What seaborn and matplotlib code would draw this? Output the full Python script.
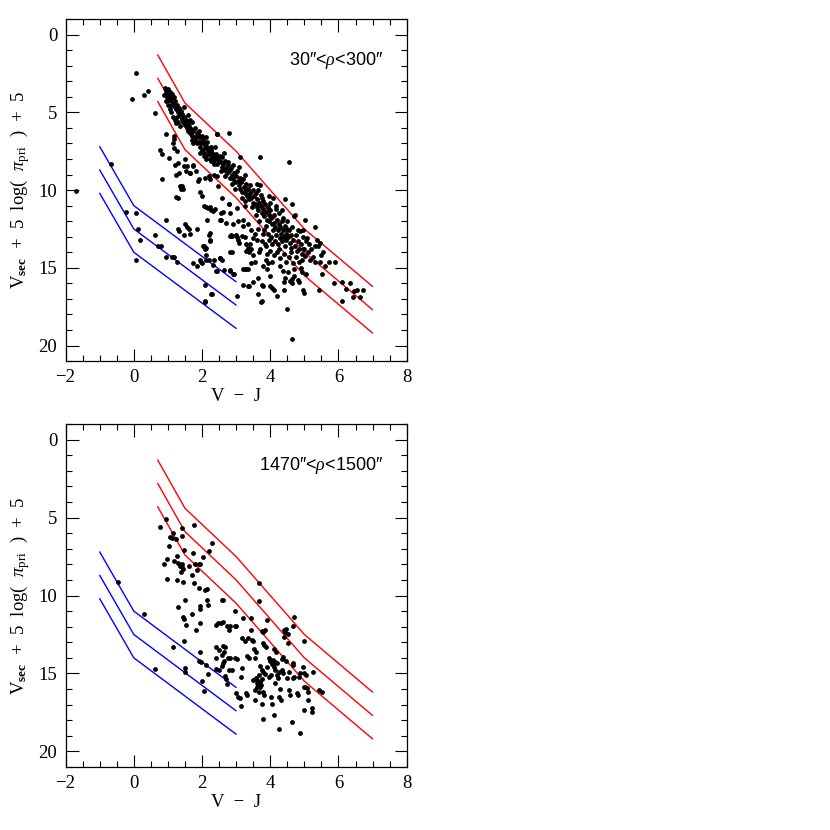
import numpy as np
import pandas as pd
import matplotlib
matplotlib.use('Agg')
import matplotlib.pyplot as plt
import seaborn as sns
from matplotlib.ticker import MultipleLocator

# envelope lines (V-J nodes, magnitudes)
red_vj = [0.7, 1.5, 3.0, 5.0, 7.0]
red_upper = [1.3, 4.4, 7.5, 12.5, 16.2]
red_mid = [2.8, 5.9, 9.0, 14.0, 17.7]
red_lower = [4.3, 7.4, 10.5, 15.5, 19.2]

blue_vj = [-1.0, 0.0, 3.0]
blue_upper = [7.2, 11.0, 15.9]
blue_mid = [8.7, 12.5, 17.4]
blue_lower = [10.2, 14.0, 18.9]

panel_labels = ["30\u2033<$\\rho$<300\u2033", "1470\u2033<$\\rho$<1500\u2033"]

# 30" < rho < 300" sample (V-J, Vsec + 5 log(pi) + 5)
top_pts = [
    (0.92,3.45),(0.95,3.6),(0.98,3.8),(1.0,3.5),(1.02,4.0),(1.05,3.7),(1.07,4.2),(1.1,3.9),
    (1.12,4.1),(1.15,4.4),(1.18,4.0),(1.2,4.6),(1.22,4.3),(1.25,4.8),(1.28,4.5),(1.3,5.0),
    (1.32,4.7),(1.35,5.2),(1.38,4.9),(1.4,5.4),(1.42,5.1),(1.45,5.6),(1.48,5.3),(1.5,5.8),
    (1.52,5.5),(1.55,6.0),(1.58,5.7),(1.6,6.2),(0.88,3.9),(0.95,4.3),(1.0,4.5),(1.05,4.8),
    (1.1,5.0),(1.15,5.3),(1.2,5.5),(1.25,5.7),(1.3,5.6),(1.35,5.9),(1.12,3.8),(1.17,4.6),
    (1.27,5.3),(1.02,4.2),(0.97,4.0),(1.08,4.5),(1.46,4.67),(1.6,5.2),(1.65,5.5),
    (1.62,5.9),(1.65,6.3),(1.68,6.1),(1.7,5.6),(1.72,6.5),(1.75,6.2),(1.78,6.8),(1.8,6.0),
    (1.82,6.6),(1.85,7.0),(1.88,6.4),(1.9,6.9),(1.93,7.2),(1.95,6.6),(1.98,7.0),(2.0,7.4),
    (2.02,6.8),(2.05,7.6),(2.08,7.1),(2.1,7.3),(2.13,7.8),(2.15,6.9),(2.18,7.5),(2.2,7.7),
    (2.22,8.0),(2.25,7.4),(2.28,7.9),(2.3,7.6),(2.32,8.1),(2.35,7.8),(2.38,7.2),(2.4,8.0),
    (2.42,7.7),(2.45,8.3),(2.48,7.9),(2.5,8.1),(1.75,7.0),(1.85,6.3),(1.95,7.6),(2.05,7.0),
    (2.15,7.2),(2.25,8.1),(2.35,8.3),(2.44,6.4),(2.12,6.6),(1.92,6.2),(2.27,7.2),(2.0,6.5),
    (1.7,6.8),
    (2.52,7.8),(2.55,8.2),(2.58,8.5),(2.6,7.9),(2.62,8.3),(2.65,8.7),(2.68,8.1),(2.7,8.6),
    (2.72,8.9),(2.75,8.4),(2.78,6.3),(2.8,8.8),(2.82,9.2),(2.85,8.6),(2.88,9.0),(2.9,8.4),
    (2.92,9.3),(2.95,8.9),(2.98,9.5),(3.0,9.1),(3.02,8.8),(3.05,9.4),(3.08,9.7),(3.1,9.2),
    (3.12,9.9),(3.15,9.5),(3.18,10.1),(3.2,9.3),(3.22,9.8),(3.25,10.2),(3.28,9.6),(3.3,10.0),
    (3.32,10.4),(3.35,9.9),(3.38,10.6),(3.4,10.2),(3.42,9.7),(3.45,10.5),(3.48,10.0),(3.5,10.8),
    (2.57,8.8),(2.67,9.1),(2.77,8.2),(2.87,9.6),(2.97,9.9),(3.07,8.5),(3.17,10.5),(3.27,10.7),
    (3.37,10.3),(3.47,11.1),(3.25,9.0),(3.1,7.9),(2.63,7.6),
    (3.52,10.4),(3.55,10.9),(3.57,10.2),(3.6,11.1),(3.62,10.6),(3.65,11.3),(3.67,10.8),(3.7,9.7),
    (3.72,11.0),(3.75,11.5),(3.77,10.5),(3.8,11.2),(3.82,11.7),(3.85,10.9),(3.87,11.4),(3.9,11.9),
    (3.92,11.1),(3.95,11.6),(3.97,12.0),(4.0,11.3),(4.02,11.8),(4.05,12.2),(4.07,10.5),(4.1,11.6),
    (4.12,12.1),(4.15,12.4),(4.17,11.2),(4.2,11.9),(4.22,12.6),(4.25,12.2),(4.27,11.5),(4.3,12.4),
    (4.32,12.8),(4.35,12.0),(4.37,12.6),(4.4,13.0),(4.42,12.3),(4.45,12.8),(4.47,13.2),(4.5,12.5),
    (3.58,11.6),(3.68,12.0),(3.78,10.7),(3.88,12.3),(3.98,10.8),(4.08,12.6),(4.18,12.9),(4.28,13.1),
    (4.38,11.8),(4.48,12.0),(3.63,10.0),(3.73,10.3),(3.83,12.6),(3.93,12.8),(4.03,13.0),(4.13,13.3),
    (4.23,13.5),(4.33,13.3),(4.43,13.6),(3.6,9.6),(3.95,10.4),(4.16,11.0),(4.35,11.3),(4.42,10.6),
    (4.64,10.9),(4.55,8.2),(3.71,7.87),
    (4.52,13.0),(4.55,12.6),(4.58,13.4),(4.6,12.9),(4.62,13.7),(4.65,12.4),(4.68,13.2),(4.7,11.7),
    (4.72,13.6),(4.75,12.9),(4.78,13.9),(4.8,13.3),(4.82,12.6),(4.85,13.8),(4.88,12.65),(4.9,13.5),
    (4.92,14.1),(4.95,13.0),(4.97,12.55),(5.0,13.8),(5.02,11.9),(5.05,13.3),(5.07,13.1),(5.1,14.0),
    (5.15,13.5),(5.2,13.8),(5.25,14.3),(5.3,13.6),(5.32,12.4),(5.37,13.2),(5.41,13.6),(5.46,13.4),
    (5.5,14.2),(4.73,11.6),(5.55,14.0),
    (3.04,11.15),(3.06,13.2),(3.16,12.97),(3.19,11.9),(3.26,11.04),(3.35,12.2),(3.3,13.5),(3.35,13.7),
    (3.4,13.5),(3.38,14.0),(3.3,13.9),(3.45,13.8),(3.5,14.2),(3.19,16.1),(3.35,16.2),(3.21,15.1),
    (3.3,15.1),(3.45,14.7),(3.55,14.6),(3.5,15.9),(3.75,16.1),(3.65,15.65),(3.75,17.15),(3.8,14.9),
    (3.89,14.5),(3.94,14.7),(4.04,14.6),(3.99,15.5),(4.04,16.3),(4.19,16.8),(4.29,14.9),(4.37,15.2),
    (4.41,15.9),(4.43,15.65),(4.53,15.3),(4.58,15.86),(4.63,15.75),(4.5,17.64),(4.63,19.6),(3.7,13.8),
    (3.68,14.0),(3.89,13.6),(4.04,13.5),(4.68,14.7),(4.83,14.6),(4.93,14.5),(5.02,14.25),(5.17,14.5),
    (4.97,13.8),(4.93,15.3),(5.05,15.4),(5.32,14.6),(5.42,16.4),(5.47,14.6),(5.61,14.9),(5.71,14.6),
    (5.86,16.0),(5.91,14.6),(6.1,15.9),(6.1,17.15),(6.23,16.35),(6.35,15.97),(6.45,16.5),(6.55,16.4),
    (6.43,16.9),(6.62,16.9),(6.72,16.4),(5.51,15.4),(3.63,16.7),(3.74,17.2),(4.1,16.4),(4.41,16.4),
    (3.55,12.8),(3.6,13.2),(3.65,12.5),(3.75,13.3),(3.8,12.8),(3.85,13.5),(3.9,14.1),(3.95,13.2),
    (4.0,13.9),(4.1,14.2),(4.2,14.0),(4.25,13.8),(4.3,14.4),(4.4,14.1),(4.45,14.6),(4.55,14.3),
    (4.6,14.0),(4.7,15.1),(4.75,14.3),(4.8,15.8),(4.85,15.9),(4.9,15.0),(4.95,16.4),(5.0,16.6),
    (4.65,15.95),(4.7,15.5),(3.45,12.6),(3.5,13.1),(3.25,13.0),(3.2,12.3),(3.05,12.0),(3.0,12.9),
    (-1.68,10.07),(-0.68,8.3),(-0.24,11.4),(0.05,11.5),(0.12,12.5),(0.17,13.2),(0.05,14.5),(-0.04,4.14),
    (0.05,2.47),(0.29,3.9),(0.41,3.64),(0.63,5.06),(0.63,12.9),(0.7,13.6),(0.81,13.6),(0.93,14.3),
    (0.93,11.9),(1.12,14.3),(1.17,14.3),(1.27,14.6),(0.78,7.44),(0.83,7.67),(0.83,9.26),(1.02,7.93),
    (0.95,6.37),(1.17,6.54),(1.27,7.5),(1.29,8.25),(1.32,8.9),(1.41,9.75),(1.37,9.92),(1.44,9.9),
    (1.29,10.5),(1.29,12.5),(1.32,12.65),(1.51,12.2),(1.56,12.4),(1.63,12.5),(1.48,12.9),(1.66,12.85),
    (1.85,12.5),(1.74,14.7),(1.85,14.9),(1.95,14.5),(2.0,14.7),(1.51,8.0),(1.56,8.47),(1.66,8.9),
    (1.74,8.4),(1.83,8.8),(1.91,9.3),(1.93,10.1),(2.0,10.4),(2.07,11.0),(2.13,11.1),(2.23,11.1),
    (2.27,11.3),(2.15,11.9),(2.23,12.75),(2.24,13.2),(2.07,13.6),(2.12,13.7),(2.13,14.2),(2.2,14.5),
    (2.1,16.1),(2.1,17.2),(2.29,16.7),(2.44,15.2),(2.54,14.4),(2.59,14.5),(2.34,14.5),(2.54,11.9),
    (2.61,11.4),(2.59,10.5),(2.46,9.75),(2.44,9.1),(2.34,9.0),(2.22,9.3),(2.78,10.9),(2.83,11.5),
    (2.88,12.97),(2.83,12.97),(2.88,14.0),(2.83,15.2),(2.93,15.4),(2.44,6.4),(3.02,13.0),(3.07,13.4),
    (3.02,16.8),(3.27,15.1),(3.34,15.1),(3.37,16.2),(3.8,16.2),(3.9,15.1),(4.0,16.2),
    (1.19,7.29),(1.14,6.97),(1.19,6.71),(1.21,8.36),(1.24,9.0),(1.46,8.42),(1.54,8.79),(1.65,8.9),
    (1.73,8.47),(1.34,9.75),(1.24,10.46),(1.88,9.43),(2.08,9.22),(2.13,8.0),(2.06,7.78),(2.2,9.11),
    (2.52,14.36),(2.64,15.15),(2.81,15.15),(2.91,15.4),(2.57,11.47),(2.57,11.9),(2.7,12.15),(2.79,10.87),
    (2.91,12.2),(2.86,12.9),(2.81,14.0),(2.17,11.15),(2.32,11.36),(2.37,11.2),(2.2,12.86),(2.22,13.3),
    (2.03,13.6),(2.08,13.8),(1.98,14.6),(2.11,14.5),(2.32,14.8),(2.42,15.2),(2.27,16.7),(2.08,17.15),
]

# 1470" < rho < 1500" sample
bot_pts = [
    (-0.47,9.13),(0.29,11.17),(0.63,14.74),(1.15,13.28),(0.78,5.6),(0.95,5.11),(1.02,6.83),(1.07,6.23),
    (1.12,6.3),(1.15,6.0),(1.24,6.36),(0.98,7.63),(0.9,7.97),(0.98,8.94),(1.17,7.8),(1.27,7.48),
    (1.3,7.9),(1.27,8.98),(1.35,8.1),(1.4,7.95),(1.41,8.16),(1.41,5.65),(1.41,6.2),(1.37,8.5),
    (1.44,8.3),(1.46,7.1),(1.44,9.15),(1.51,10.27),(1.3,10.74),(1.44,11.4),(1.46,11.5),(1.54,11.9),
    (1.46,12.9),(1.49,14.67),(1.49,14.93),(1.61,8.12),(1.71,8.66),(1.76,5.5),(1.74,7.26),(1.8,8.0),
    (1.85,8.33),(1.9,7.97),(1.93,8.0),(1.76,9.2),(1.71,11.17),(1.83,12.2),(1.9,9.5),(1.93,10.87),
    (1.95,10.7),(1.93,11.77),(1.95,13.6),(1.9,14.18),(1.98,14.24),(2.0,15.49),(2.03,7.54),(2.1,9.62),
    (2.15,9.58),(2.15,10.3),(2.17,10.6),(2.07,16.13),(2.13,14.46),(2.17,15.04),(2.2,7.15),(2.29,6.62),
    (2.42,11.88),(2.46,11.77),(2.42,13.32),(2.49,13.5),(2.42,14.0),(2.42,14.74),(2.49,14.78),(2.59,10.27),
    (2.61,10.3),(2.57,11.77),(2.61,11.69),(2.59,13.8),(2.63,14.18),(2.59,14.5),(2.61,14.35),(2.61,13.23),
    (2.65,13.6),(2.68,15.17),(2.71,15.38),(2.73,11.94),(2.78,12.2),(2.83,11.94),(2.76,14.0),(2.83,14.0),
    (2.8,14.78),(2.88,14.78),(2.73,15.7),(2.68,13.3),(2.98,11.94),(3.01,11.96),(2.98,10.98),(2.98,14.0),
    (3.02,14.1),(3.0,16.24),(3.05,16.5),(3.12,16.55),(3.15,17.1),(3.17,14.67),(3.14,15.2),(3.17,12.74),
    (3.27,12.95),(3.2,11.45),(3.29,16.24),(3.33,16.4),(3.32,13.9),(3.37,14.0),(3.34,12.7),(3.43,12.2),
    (3.43,11.45),(3.46,12.85),(3.49,12.95),(3.53,13.45),(3.59,13.6),(3.56,14.03),(3.49,15.42),(3.54,16.07),
    (3.56,16.71),(3.61,15.42),(3.66,15.1),(3.63,15.75),(3.69,15.85),(3.71,15.53),(3.66,9.2),(3.66,10.38),
    (3.76,12.3),(3.8,12.37),(3.85,12.2),(3.78,13.06),(3.82,13.17),(3.87,13.28),(3.76,14.78),(3.8,14.9),
    (3.85,15.04),(3.76,15.38),(3.73,15.75),(3.8,16.18),(3.82,16.4),(3.76,16.93),(3.8,17.9),(3.9,11.6),
    (3.95,14.03),(4.0,14.18),(3.95,15.2),(4.02,15.1),(4.02,16.5),(4.05,16.93),(4.1,14.57),(4.1,14.35),
    (4.15,14.25),(4.08,14.15),(4.15,14.8),(4.12,13.4),(4.17,13.6),(4.1,17.68),(4.2,15.1),(4.22,15.3),
    (4.27,16.5),(4.31,16.7),(4.27,18.54),(4.34,14.78),(4.37,15.0),(4.37,13.92),(4.34,14.1),(4.39,12.2),
    (4.39,12.63),(4.42,12.37),(4.47,12.16),(4.51,12.46),(4.51,13.06),(4.49,15.3),(4.54,16.07),(4.59,16.4),
    (4.63,18.1),(4.66,15.3),(4.69,15.2),(4.66,14.46),(4.68,14.35),(4.68,11.94),(4.7,11.39),(4.78,16.24),
    (4.8,16.4),(4.83,15.2),(4.86,15.0),(4.88,18.8),(4.96,14.57),(4.98,15.0),(5.0,12.95),(4.98,15.85),
    (5.02,15.85),(5.0,17.36),(5.05,15.1),(5.07,15.96),(5.12,16.18),(5.12,16.71),(5.22,17.2),(5.22,17.47),
    (5.25,14.93),(5.44,16.07),(5.51,16.18),(3.58,15.3),(3.62,15.9),(3.68,16.2),(3.9,14.6),(4.05,14.4),
    (4.2,14.3),(4.25,14.9),(4.45,14.2),(4.55,14.9),(3.7,14.5),(3.6,15.6),(4.3,16.0),(4.15,15.6),
]

top = pd.DataFrame(top_pts, columns=['vj', 'mv'])
bot = pd.DataFrame(bot_pts, columns=['vj', 'mv'])

sns.set_style('ticks')
plt.rcParams['font.family'] = ['Liberation Serif', 'DejaVu Serif']
plt.rcParams['mathtext.fontset'] = 'custom'
plt.rcParams['mathtext.rm'] = 'Liberation Serif'
plt.rcParams['mathtext.it'] = 'Liberation Serif:italic'
plt.rcParams['mathtext.bf'] = 'Liberation Serif:bold'
plt.rcParams['text.color'] = 'black'
plt.rcParams['axes.labelcolor'] = 'black'
plt.rcParams['xtick.color'] = 'black'
plt.rcParams['ytick.color'] = 'black'

fig = plt.figure(figsize=(8.3, 8.3), dpi=100)
ax1 = fig.add_axes([0.079, 0.565, 0.411, 0.412])
ax2 = fig.add_axes([0.079, 0.076, 0.411, 0.413])

for ax, df, lab in [(ax1, top, panel_labels[0]), (ax2, bot, panel_labels[1])]:
    for yy in [red_upper, red_mid, red_lower]:
        sns.lineplot(x=red_vj, y=yy, ax=ax, color='red', lw=1.0, sort=False, estimator=None)
    for yy in [blue_upper, blue_mid, blue_lower]:
        sns.lineplot(x=blue_vj, y=yy, ax=ax, color='blue', lw=1.0, sort=False, estimator=None)
    sns.scatterplot(data=df, x='vj', y='mv', ax=ax, color='black', s=12, linewidth=0, zorder=3)
    ax.set_xlim(-2, 8)
    ax.set_ylim(21, -1)
    ax.xaxis.set_major_locator(MultipleLocator(2))
    ax.xaxis.set_minor_locator(MultipleLocator(0.5))
    ax.yaxis.set_major_locator(MultipleLocator(5))
    ax.yaxis.set_minor_locator(MultipleLocator(1))
    ax.tick_params(which='both', direction='in', top=True, right=True, color='black', width=0.8)
    ax.tick_params(which='major', length=9, labelsize=13.5, pad=6)
    ax.tick_params(which='minor', length=4.5)
    for sp in ax.spines.values():
        sp.set_color('black')
        sp.set_linewidth(0.9)
    ax.set_xlabel('V  \u2212  J', fontsize=13.5, labelpad=1)
    ax.set_ylabel('V$_{\\mathbf{sec}}$  +  5  log(  $\\mathit{\\pi}_{\\rm pri}$  )  +  5',
                  fontsize=13.5, labelpad=5)
    ax.text(0.93, 0.88, lab, transform=ax.transAxes, ha='right', va='center', fontsize=13,
            family=['Liberation Sans', 'DejaVu Sans'])

fig.savefig('out.png', dpi=100)
